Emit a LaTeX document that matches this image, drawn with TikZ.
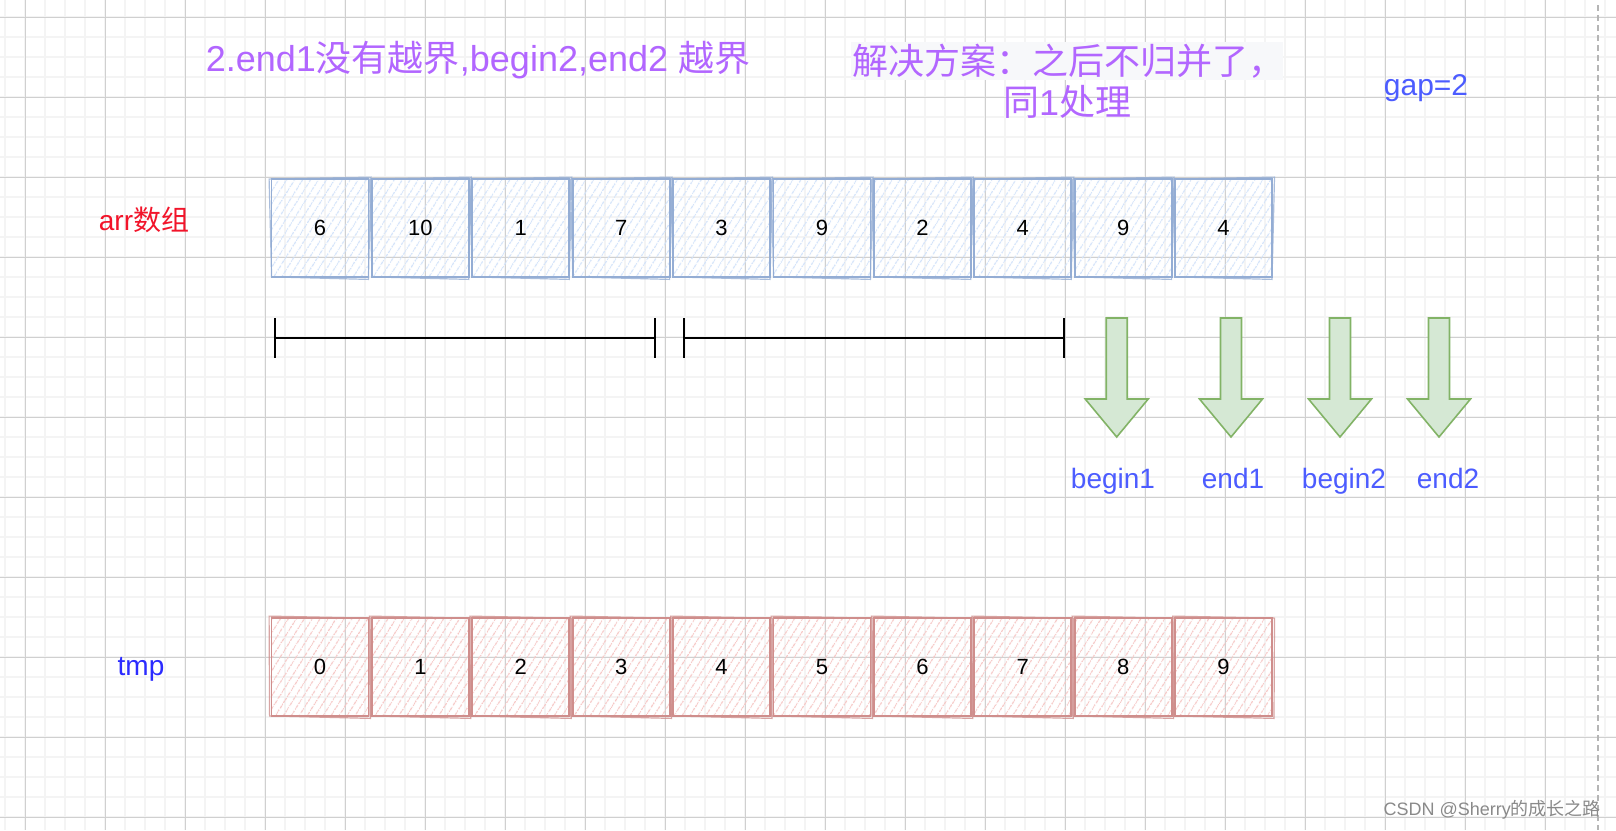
\documentclass[tikz,border=0pt]{standalone}
\usepackage{fontspec}
\setmainfont{Liberation Sans}
\newfontfamily\cjk{Noto Sans CJK SC}
\usetikzlibrary{patterns.meta}
\definecolor{gridminor}{HTML}{F4F4F4}
\definecolor{gridmajor}{HTML}{D0D0D0}
\definecolor{bluestroke}{HTML}{94ADD4}
\definecolor{bluehatch}{HTML}{D3E3FA}
\definecolor{redstroke}{HTML}{CF8E8C}
\definecolor{redhatch}{HTML}{F6C8C6}
\definecolor{greenfill}{HTML}{D5E8D4}
\definecolor{greenstroke}{HTML}{82B366}
\definecolor{purpletext}{HTML}{B266FF}
\definecolor{bluetext}{HTML}{4C5CFF}
\definecolor{tmpblue}{HTML}{2B2BFF}
\definecolor{arrred}{HTML}{F2142A}
\definecolor{notebg}{HTML}{F7F8FA}
\definecolor{markgray}{HTML}{8A8A8A}
\definecolor{dashgray}{HTML}{B5B5B5}
\tikzset{
  garrow/.pic={\draw[fill=greenfill,draw=greenstroke,line width=1.6pt,line join=miter]
    (-10.5,0) -- (10.5,0) -- (10.5,81) -- (31.5,81) -- (0,119) -- (-31.5,81) -- (-10.5,81) -- cycle;}
}
\begin{document}
\begin{tikzpicture}[x=1pt,y=-1pt,
  minorline/.style={gridminor,line width=1.6pt},
  majorline/.style={gridmajor,line width=1pt},
  cellbase/.style={minimum width=97pt,minimum height=98pt,inner sep=0pt,font=\fontsize{22}{24}\selectfont,text=black},
  arrcell/.style={cellbase,pattern={Lines[angle=58,distance=6.5pt,line width=1.1pt]},pattern color=bluehatch,draw=bluestroke,line width=1.8pt},
  tmpcell/.style={cellbase,pattern={Lines[angle=58,distance=6.5pt,line width=1.1pt]},pattern color=redhatch,draw=redstroke,line width=1.8pt},
  bluesketch/.style={draw=bluestroke,line width=1.2pt,opacity=0.8},
  redsketch/.style={draw=redstroke,line width=1.2pt,opacity=0.8},
  brk/.style={black,line width=1.8pt},
  ptr/.style={text=bluetext,font=\fontsize{28}{32}\selectfont,anchor=base},
  bigpurple/.style={text=purpletext,font=\fontsize{36}{40}\selectfont,inner sep=0pt}
]
\useasboundingbox (0,0) rectangle (1616,830);
\fill[white] (0,0) rectangle (1616,830);
% grid
\foreach \x in {5,25,...,1605} \draw[minorline] (\x,0) -- (\x,830);
\foreach \y in {17,37,...,817} \draw[minorline] (0,\y) -- (1616,\y);
\foreach \x in {25,105,...,1545} \draw[majorline] (\x,0) -- (\x,830);
\foreach \y in {17,97,...,817} \draw[majorline] (0,\y) -- (1616,\y);
\draw[dashgray,line width=2pt,dash pattern=on 6pt off 4pt] (1598,5) -- (1598,830);

% texts
\node[bigpurple] (title) at (478,60) {2.end1{\cjk 没有越界},begin2,end2 {\cjk 越界}};
\fill[notebg] (851,42) rectangle (1283,80);
\node[bigpurple] (sol1) at (1068,61) {\cjk 解决方案：之后不归并了，};
\node[bigpurple] (sol2) at (1067,102) {{\cjk 同}1{\cjk 处理}};
\node[text=bluetext,font=\fontsize{30}{34}\selectfont] (gap) at (1426,88) {gap=2};
\node[text=arrred,font=\fontsize{28}{32}\selectfont] (arrlbl) at (144,220) {arr{\cjk 数组}};
\node[text=tmpblue,font=\fontsize{28}{32}\selectfont] (tmplbl) at (141,669) {tmp};

% arr cells
\foreach \v [count=\i from 0] in {6,10,1,7,3,9,2,4,9,4} {
  \node[arrcell] (a\i) at ({320+100.4*\i},228) {\v};
  \draw[bluesketch] ([shift={(-1.5,1)}]a\i.north west) -- ([shift={(1.5,-1)}]a\i.north east)
    -- ([shift={(-1,1.5)}]a\i.south east) -- ([shift={(1,-1)}]a\i.south west) -- cycle;
}
% tmp cells
\foreach \v [count=\i from 0] in {0,...,9} {
  \node[tmpcell] (t\i) at ({320+100.4*\i},667) {\v};
  \draw[redsketch] ([shift={(-1.5,-1)}]t\i.north west) -- ([shift={(1.5,1)}]t\i.north east)
    -- ([shift={(1,1.5)}]t\i.south east) -- ([shift={(-1,-1)}]t\i.south west) -- cycle;
}

% brackets
\coordinate (b1s) at (275,338);
\coordinate (b1e) at (655,338);
\coordinate (b2s) at (684,338);
\coordinate (b2e) at (1064,338);
\draw[brk] (b1s) -- (b1e);
\draw[brk] (b2s) -- (b2e);
\foreach \c in {b1s,b1e,b2s,b2e} \draw[brk] (\c) ++(0,-20) -- ++(0,40);

% arrows
\pic at (1116.7,318) {garrow};
\pic at (1231,318) {garrow};
\pic at (1340,318) {garrow};
\pic at (1439,318) {garrow};
\node[ptr] (p1) at (1113,488) {begin1};
\node[ptr] (p2) at (1233,488) {end1};
\node[ptr] (p3) at (1344,488) {begin2};
\node[ptr] (p4) at (1448,488) {end2};

% watermark
\node[anchor=east,text=markgray,font=\fontsize{18}{20}\selectfont,inner sep=0pt] (wm) at (1601,810) {CSDN @Sherry{\cjk 的成长之路}};
\end{tikzpicture}
\end{document}
